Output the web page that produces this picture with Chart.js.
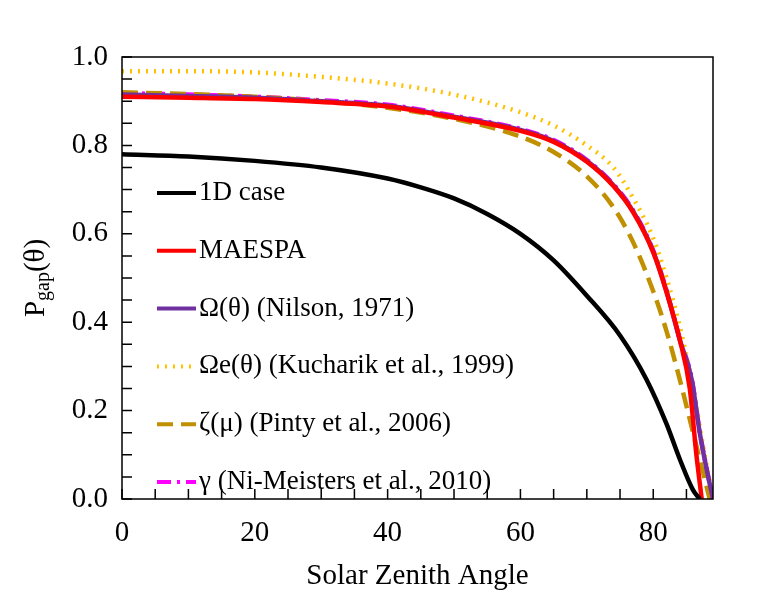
<!DOCTYPE html>
<html><head><meta charset="utf-8">
<script src="https://cdn.jsdelivr.net/npm/chart.js@4"></script>
<style>body{margin:0;background:#fff}#wrap{width:774px;height:596px}</style>
</head><body><div id="wrap"><canvas id="c" width="774" height="596"></canvas></div>
<script>
// Datos
const xOneD = [0, 10, 20, 30, 40, 45, 50, 55, 60, 65, 70, 75, 79, 82, 84, 86, 87];
const yOneD = [0.78, 0.775, 0.765, 0.75, 0.725, 0.705, 0.68, 0.645, 0.60, 0.54, 0.46, 0.37, 0.27, 0.17, 0.09, 0.02, 0];
const xMaespa = [0, 10, 20, 30, 40, 50, 60, 65, 70, 74, 77, 80, 82, 84, 85.5, 86.5, 87.3];
const yMaespa = [0.91, 0.908, 0.905, 0.898, 0.888, 0.863, 0.833, 0.808, 0.763, 0.708, 0.648, 0.558, 0.468, 0.36, 0.25, 0.1, 0];
const xOmega = [0, 10, 20, 30, 40, 50, 60, 65, 70, 74, 77, 80, 82, 84, 85.8, 87, 88, 89];
const yOmega = [0.915, 0.912, 0.908, 0.9, 0.89, 0.865, 0.835, 0.81, 0.765, 0.71, 0.65, 0.56, 0.47, 0.36, 0.27, 0.15, 0.07, 0];
const xKuch = [0, 10, 20, 30, 40, 50, 60, 65, 70, 74, 77, 80, 82, 84, 86, 87.5, 89];
const yKuch = [0.968, 0.968, 0.965, 0.955, 0.94, 0.915, 0.875, 0.845, 0.80, 0.75, 0.68, 0.59, 0.5, 0.39, 0.25, 0.12, 0];
const xPinty = [0, 10, 20, 30, 40, 50, 60, 65, 70, 74, 77, 80, 82, 84, 86, 88, 88.5];
const yPinty = [0.92, 0.916, 0.91, 0.9, 0.885, 0.86, 0.82, 0.785, 0.73, 0.66, 0.58, 0.47, 0.38, 0.27, 0.15, 0.03, 0];
const xGamma = [0, 10, 20, 30, 40, 50, 60, 65, 70, 74, 77, 80, 82, 84, 85.8, 87, 88, 89];
const yGamma = [0.918, 0.915, 0.91, 0.902, 0.892, 0.867, 0.837, 0.812, 0.767, 0.712, 0.652, 0.562, 0.472, 0.362, 0.272, 0.152, 0.072, 0];
const xTickLabels = [0, 20, 40, 60, 80];
const yTickLabels = [0.0, 0.2, 0.4, 0.6, 0.8, 1.0];

const serif = '"Liberation Serif", "DejaVu Serif", serif';

function pts(xs, ys) {
    return xs.map((x, i) => ({ x: x, y: ys[i] }));
}

const series = [
    { label: '1D case', data: pts(xOneD, yOneD), color: '#000000', dash: [] },
    { label: 'MAESPA', data: pts(xMaespa, yMaespa), color: '#FF0000', dash: [] },
    { label: 'Ω(θ) (Nilson, 1971)', data: pts(xOmega, yOmega), color: '#7030A0', dash: [] },
    { label: 'Ωe(θ) (Kucharik et al., 1999)', data: pts(xKuch, yKuch), color: '#FFC000', dash: [2, 6] },
    { label: 'ζ(μ) (Pinty et al., 2006)', data: pts(xPinty, yPinty), color: '#C09000', dash: [16, 8] },
    { label: 'γ (Ni-Meisters et al., 2010)', data: pts(xGamma, yGamma), color: '#FF00FF', dash: [14, 6, 3, 6] }
];

// Ejes, marcas y leyenda dibujados a mano
const axesPlugin = {
    id: 'axesPlugin',
    afterDraw(chart) {
        const ctx = chart.ctx;
        const a = chart.chartArea;
        const xs = chart.scales.x, ys = chart.scales.y;
        ctx.save();
        ctx.strokeStyle = '#000';
        ctx.lineWidth = 1.5;
        ctx.strokeRect(a.left, a.top, a.right - a.left, a.bottom - a.top);
        ctx.beginPath();
        for (let v = 0; v <= 85; v += 5) {
            const px = xs.getPixelForValue(v);
            ctx.moveTo(px, a.bottom); ctx.lineTo(px, a.bottom - 10);
        }
        for (let i = 0; i <= 20; i++) {
            const py = ys.getPixelForValue(i * 0.05);
            ctx.moveTo(a.left, py); ctx.lineTo(a.left + 10, py);
        }
        ctx.stroke();

        ctx.fillStyle = '#000';
        ctx.font = '29px ' + serif;
        ctx.textAlign = 'center'; ctx.textBaseline = 'middle';
        for (const v of xTickLabels) ctx.fillText(String(v), xs.getPixelForValue(v), 533);
        ctx.textAlign = 'right';
        for (const v of yTickLabels) ctx.fillText(v.toFixed(1), a.left - 14, ys.getPixelForValue(v));

        ctx.textAlign = 'center';
        ctx.font = '29px ' + serif;
        ctx.fillText('Solar Zenith Angle', (a.left + a.right) / 2, 576);

        // Titulo eje Y con subindice
        ctx.translate(36, (a.top + a.bottom) / 2);
        ctx.rotate(-Math.PI / 2);
        ctx.textAlign = 'left';
        const p1 = 'P', p2 = 'gap', p3 = '(θ)';
        ctx.font = '29px ' + serif;
        const w1 = ctx.measureText(p1).width, w3 = ctx.measureText(p3).width;
        ctx.font = '20px ' + serif;
        const w2 = ctx.measureText(p2).width;
        let sx = -(w1 + w2 + w3) / 2;
        ctx.font = '29px ' + serif;
        ctx.fillText(p1, sx, 0);
        ctx.font = '20px ' + serif;
        ctx.fillText(p2, sx + w1, 8);
        ctx.font = '29px ' + serif;
        ctx.fillText(p3, sx + w1 + w2, 0);
        ctx.restore();

        // Leyenda
        ctx.save();
        ctx.font = '27px ' + serif;
        ctx.textBaseline = 'middle';
        series.forEach((s, i) => {
            const y = 193 + i * 57.8;
            ctx.strokeStyle = s.color;
            ctx.lineWidth = 4;
            ctx.setLineDash(s.dash);
            ctx.beginPath(); ctx.moveTo(157, y); ctx.lineTo(196, y); ctx.stroke();
            ctx.setLineDash([]);
            ctx.fillStyle = '#000';
            ctx.fillText(s.label, 199, y);
        });
        ctx.restore();
    }
};

new Chart(document.getElementById('c'), {
    type: 'line',
    data: {
        datasets: series.map(s => ({
            label: s.label,
            data: s.data,
            borderColor: s.color,
            borderDash: s.dash,
            borderWidth: 4.5,
            pointRadius: 0,
            cubicInterpolationMode: 'monotone',
            fill: false
        }))
    },
    options: {
        responsive: false,
        animation: false,
        layout: { padding: { left: 122, right: 61, top: 57, bottom: 97 } },
        plugins: { legend: { display: false }, tooltip: { enabled: false } },
        scales: {
            x: { type: 'linear', min: 0, max: 89, display: false },
            y: { min: 0, max: 1, display: false }
        }
    },
    plugins: [axesPlugin]
});
</script></body></html>
